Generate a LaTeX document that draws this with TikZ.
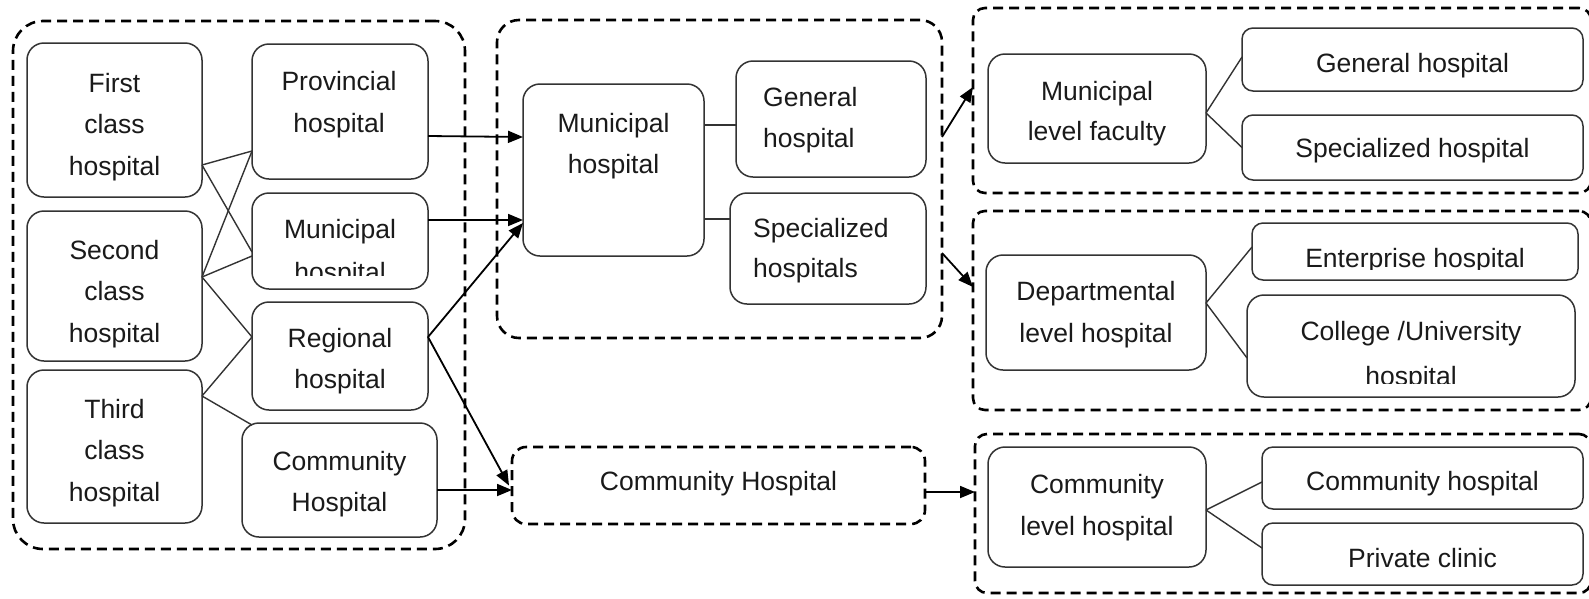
\documentclass[tikz,border=0pt]{standalone}
\usepackage{fontspec}
\setmainfont{Liberation Sans}
\usetikzlibrary{arrows.meta}
\definecolor{boxc}{HTML}{333333}
\definecolor{txtc}{HTML}{1A1A1A}
\begin{document}
\begin{tikzpicture}[x=1pt,y=-1pt,
  box/.style={draw=boxc, line width=1.5pt, rounded corners=17pt, inner sep=0pt, outer sep=0pt},
  sbox/.style={box, rounded corners=11pt},
  grp/.style={draw=black, line width=2.6pt, dash pattern=on 10pt off 6pt, inner sep=0pt, outer sep=0pt},
  lbl/.style={anchor=base, inner sep=0pt, text=txtc, font=\fontsize{26.5}{32}\selectfont},
  lbll/.style={lbl, anchor=base west},
  link/.style={draw=boxc, line width=1.4pt},
  arr/.style={draw=black, line width=1.8pt, -{Triangle[length=15pt,width=12pt]}},
]
\useasboundingbox (0,0) rectangle (1589,598);
\fill[white] (0,0) rectangle (1589,598);

% ---------- left group ----------
\node[grp, rounded corners=30pt, minimum width=452pt, minimum height=528pt] (g1) at (239,285) {};
\node[box, minimum width=175pt, minimum height=154pt] (first) at (114.5,120) {};
\node[box, minimum width=175pt, minimum height=150pt] (second) at (114.5,286) {};
\node[box, minimum width=175pt, minimum height=153pt] (third) at (114.5,446.5) {};
\node[box, minimum width=176pt, minimum height=135pt] (prov) at (340,111.5) {};
\node[box, minimum width=176pt, minimum height=96pt] (lmun) at (340,241) {};
\node[box, minimum width=176pt, minimum height=108pt] (reg) at (340,356) {};
\node[box, minimum width=195pt, minimum height=114pt] (lcom) at (339.5,480) {};

\node[lbl] (tf1) at (114.5,92) {First};
\node[lbl] (tf2) at (114.5,133.5) {class};
\node[lbl] (tf3) at (114.5,175) {hospital};
\node[lbl] (ts1) at (114.5,259) {Second};
\node[lbl] (ts2) at (114.5,300.5) {class};
\node[lbl] (ts3) at (114.5,342) {hospital};
\node[lbl] (tt1) at (114.5,418) {Third};
\node[lbl] (tt2) at (114.5,459.5) {class};
\node[lbl] (tt3) at (114.5,501) {hospital};
\node[lbl] (tp1) at (339,90) {Provincial};
\node[lbl] (tp2) at (339,132) {hospital};
\node[lbl] (tm1) at (340,238) {Municipal};
\begin{scope}
  \clip (252,190) rectangle (428,275);
  \node[lbl] (tm2) at (340,281) {hospital};
\end{scope}
\node[lbl] (tr1) at (340,347) {Regional};
\node[lbl] (tr2) at (340,388) {hospital};
\node[lbl] (tc1) at (339.5,470) {Community};
\node[lbl] (tc2) at (339.5,511) {Hospital};

\draw[link] ([yshift=-45pt]first.east) -- ([yshift=-39.5pt]prov.west);
\draw[link] ([yshift=-45pt]first.east) -- ([yshift=-11pt]lmun.west);
\draw[link] ([yshift=9pt]second.east) -- ([yshift=-39.5pt]prov.west);
\draw[link] ([yshift=9pt]second.east) -- ([yshift=-15pt]lmun.west);
\draw[link] ([yshift=9pt]second.east) -- ([yshift=19pt]reg.west);
\draw[link] ([yshift=50.5pt]third.east) -- ([yshift=19pt]reg.west);
\draw[link] ([yshift=50.5pt]third.east) -- ([xshift=10pt,yshift=-2pt]lcom.north west);

% ---------- middle ----------
\node[grp, rounded corners=22pt, minimum width=445pt, minimum height=318pt] (g2) at (719.5,179) {};
\node[box, minimum width=181pt, minimum height=172pt] (mmun) at (613.5,170) {};
\node[box, minimum width=190pt, minimum height=116pt] (mgen) at (831,119) {};
\node[box, minimum width=196pt, minimum height=111pt] (mspec) at (828,248.5) {};
\node[grp, rounded corners=14pt, minimum width=413pt, minimum height=77pt] (g3) at (718.5,485.5) {};

\node[lbl] (tmm1) at (613.5,132) {Municipal};
\node[lbl] (tmm2) at (613.5,173) {hospital};
\node[lbll] (tmg1) at (763,106) {General};
\node[lbll] (tmg2) at (763,147) {hospital};
\node[lbll] (tms1) at (753,237) {Specialized};
\node[lbll] (tms2) at (753,277) {hospitals};
\node[lbl] (tch) at (718.5,490) {Community Hospital};

\draw[link] ([yshift=45pt]mmun.east) -- ([yshift=-6pt]mgen.west);
\draw[link] ([yshift=-49pt]mmun.east) -- ([yshift=29.5pt]mspec.west);

\draw[arr] ([yshift=-24.5pt]prov.east) -- ([yshift=33pt]mmun.west);
\draw[arr] ([yshift=21pt]lmun.east) -- ([yshift=-50pt]mmun.west);
\draw[arr] ([yshift=19pt]reg.east) -- ([yshift=-53pt]mmun.west);
\draw[arr] ([yshift=19pt]reg.east) -- ([xshift=-3pt]g3.west);
\draw[arr] ([yshift=-10pt]lcom.east) -- ([yshift=-4.5pt]g3.west);

% ---------- right ----------
\node[grp, rounded corners=12pt, minimum width=618pt, minimum height=185pt] (g4) at (1282,100.5) {};
\node[grp, rounded corners=12pt, minimum width=618pt, minimum height=199pt] (g5) at (1282,310.5) {};
\node[grp, rounded corners=12pt, minimum width=616pt, minimum height=159pt] (g6) at (1283,513.5) {};

\node[box, minimum width=218pt, minimum height=109pt] (mlf) at (1097,108.5) {};
\node[sbox, minimum width=341pt, minimum height=63pt] (rgen) at (1412.5,59.5) {};
\node[sbox, minimum width=341pt, minimum height=65pt] (rspec) at (1412.5,147.5) {};
\node[box, minimum width=220pt, minimum height=115pt] (dlh) at (1096,312.5) {};
\node[sbox, minimum width=326pt, minimum height=57pt] (ent) at (1415,251.5) {};
\node[box, minimum width=328pt, minimum height=102pt] (col) at (1411,346) {};
\node[box, minimum width=218pt, minimum height=120pt] (clh) at (1097,507) {};
\node[sbox, minimum width=321pt, minimum height=62pt] (rcom) at (1422.5,478) {};
\node[sbox, minimum width=321pt, minimum height=62pt] (priv) at (1422.5,554) {};

\node[lbl] (tl1) at (1097,100) {Municipal};
\node[lbl] (tl2) at (1097,140) {level faculty};
\node[lbl] (trg) at (1412.5,72) {General hospital};
\node[lbl] (trs) at (1412.5,157) {Specialized hospital};
\node[lbl] (td1) at (1096,300) {Departmental};
\node[lbl] (td2) at (1096,342) {level hospital};
\begin{scope}
  \clip (1252,220) rectangle (1578,269);
  \node[lbl] (te) at (1415,267) {Enterprise hospital};
\end{scope}
\node[lbl] (tco1) at (1411,340) {College /University};
\begin{scope}
  \clip (1247,360) rectangle (1575,383);
  \node[lbl] (tco2) at (1411,385) {hospital};
\end{scope}
\node[lbl] (tcl1) at (1097,493) {Community};
\node[lbl] (tcl2) at (1097,535) {level hospital};
\node[lbl] (trc) at (1422.5,490) {Community hospital};
\node[lbl] (tpc) at (1422.5,567) {Private clinic};

\draw[link] ([yshift=-4.5pt]mlf.east) -- ([yshift=2.5pt]rgen.west);
\draw[link] ([yshift=-4.5pt]mlf.east) -- (rspec.west);
\draw[link] ([yshift=9.5pt]dlh.east) -- ([yshift=4.5pt]ent.west);
\draw[link] ([yshift=9.5pt]dlh.east) -- ([yshift=-12pt]col.west);
\draw[link] ([yshift=-3pt]clh.east) -- ([yshift=-4pt]rcom.west);
\draw[link] ([yshift=-3pt]clh.east) -- ([yshift=6pt]priv.west);

\draw[arr] ([yshift=42pt]g2.east) -- ([yshift=13.5pt]g4.west);
\draw[arr] ([yshift=-74pt]g2.east) -- ([yshift=23.5pt]g5.west);
\draw[arr] ([yshift=-6.5pt]g3.east) -- ([yshift=21.5pt]g6.west);
\end{tikzpicture}
\end{document}
